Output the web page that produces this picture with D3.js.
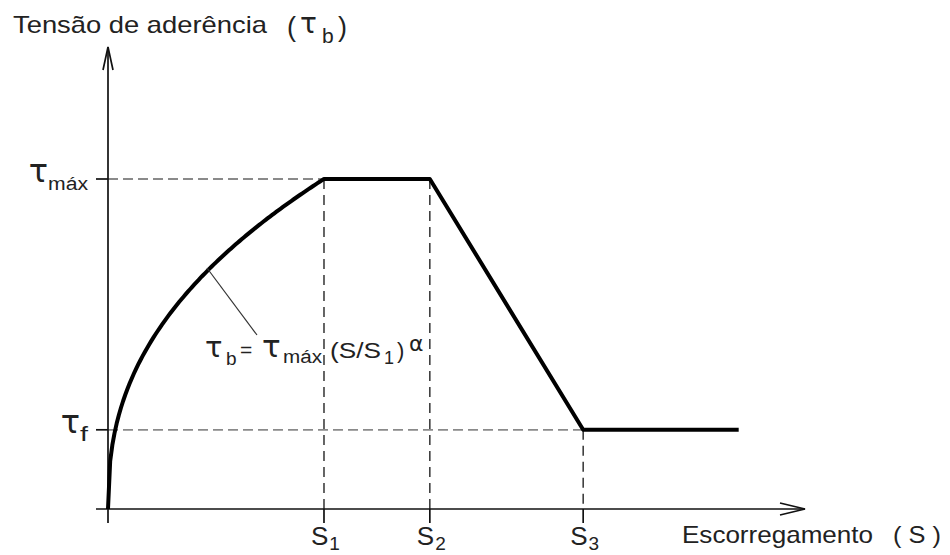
<!DOCTYPE html>
<html>
<head>
<meta charset="utf-8">
<script src="https://cdn.jsdelivr.net/npm/d3@7/dist/d3.min.js"></script>
<style>
  html, body { margin: 0; padding: 0; background: #fff; }
  svg { display: block; }
  text { font-family: "Liberation Sans", Arial, sans-serif; fill: #222; }
  text.greek { font-family: "DejaVu Sans", sans-serif; }
</style>
</head>
<body>
<svg id="chart" width="950" height="555"></svg>
<script>
// Bond stress–slip law (relative units: slip / S1, stress / τmáx)
const slipNames   = ["S1", "S2", "S3"];
const slipValues  = [1.0, 1.49, 2.2];
const slipEnd     = 2.92;          // end of the residual branch
const stressNames = ["máx", "f"];  // subscripts of τ
const stressValues = [1.0, 0.24];  // τmáx, τf
const alpha = 0.42;                // exponent of the ascending branch

const svg = d3.select("#chart");

const x = d3.scaleLinear().domain([0, 3.227]).range([108, 805]);
const y = d3.scaleLinear().domain([0, 1.4]).range([509, 47]);

const [S1, S2, S3] = slipValues;
const [tMax, tF] = stressValues;

// ascending branch τb = τmáx (S/S1)^α, then plateau, softening and residual
const rising = d3.range(0, 1.0001, 0.01).map(r => [r * S1, tMax * Math.pow(r, alpha)]);
const curve = rising.concat([[S2, tMax], [S3, tF], [slipEnd, tF]]);

const axisColor = "#111";

// dashed guides
const guides = svg.append("g");
guides.append("line")
  .attr("x1", x(0)).attr("x2", x(S1)).attr("y1", y(tMax)).attr("y2", y(tMax))
  .attr("stroke", "#8a8a8a").attr("stroke-width", 1.8).attr("stroke-dasharray", "10,5");
guides.append("line")
  .attr("x1", x(0)).attr("x2", x(S3)).attr("y1", y(tF)).attr("y2", y(tF))
  .attr("stroke", "#8a8a8a").attr("stroke-width", 1.8).attr("stroke-dasharray", "10,5");
[[S1, tMax], [S2, tMax], [S3, tF]].forEach(([s, t]) => {
  guides.append("line")
    .attr("x1", x(s)).attr("x2", x(s)).attr("y1", y(t)).attr("y2", y(0))
    .attr("stroke", "#333").attr("stroke-width", 1.5).attr("stroke-dasharray", "10,6");
});

// axes
const axes = svg.append("g").attr("stroke", axisColor).attr("stroke-width", 1.7).attr("fill", "none");
axes.append("line").attr("x1", x(0)).attr("x2", x(0)).attr("y1", y(0) + 14).attr("y2", y(1.4));
axes.append("line").attr("x1", x(0) - 12).attr("x2", x(3.227)).attr("y1", y(0)).attr("y2", y(0));
// open arrowheads
axes.append("path").attr("d", `M${x(0) - 5},${y(1.4) + 23} L${x(0)},${y(1.4)} L${x(0) + 5},${y(1.4) + 23}`);
axes.append("path").attr("d", `M${x(3.227) - 25},${y(0) - 6} L${x(3.227)},${y(0)} L${x(3.227) - 25},${y(0) + 6}`);

// ticks
stressValues.forEach(t => {
  axes.append("line").attr("x1", x(0) - 12).attr("x2", x(0)).attr("y1", y(t)).attr("y2", y(t));
});
slipValues.forEach(s => {
  axes.append("line").attr("x1", x(s)).attr("x2", x(s)).attr("y1", y(0)).attr("y2", y(0) + 14);
});

// the bond–slip curve
svg.append("path")
  .datum(curve)
  .attr("d", d3.line().x(d => x(d[0])).y(d => y(d[1])))
  .attr("fill", "none").attr("stroke", "#000").attr("stroke-width", 4)
  .attr("stroke-linejoin", "round");

// leader line to the formula
svg.append("line")
  .attr("x1", 207).attr("y1", 268).attr("x2", 257).attr("y2", 335)
  .attr("stroke", "#333").attr("stroke-width", 1.2);

// y-axis title
const title = svg.append("g");
title.append("text").attr("x", 13).attr("y", 33).attr("font-size", 24)
  .attr("textLength", 254).attr("lengthAdjust", "spacingAndGlyphs").text("Tensão de aderência");
title.append("text").attr("x", 287).attr("y", 36).attr("font-size", 27).text("(");
title.append("text").attr("class", "greek").attr("x", 300).attr("y", 33).attr("font-size", 28).text("τ");
title.append("text").attr("x", 322).attr("y", 43).attr("font-size", 21).text("b");
title.append("text").attr("x", 338).attr("y", 36).attr("font-size", 27).text(")");

// stress labels
const stressLabels = svg.append("g");
stressValues.forEach((t, i) => {
  const sub = stressNames[i];
  const subW = sub === "f" ? 8 : 40;
  const subX = 88 - subW;
  stressLabels.append("text").attr("x", subX).attr("y", y(t) + 11)
    .attr("font-size", sub === "f" ? 20 : 18)
    .attr("textLength", subW).attr("lengthAdjust", "spacingAndGlyphs")
    .attr("fill", "#333").text(sub);
  stressLabels.append("text").attr("class", "greek").attr("x", subX).attr("y", y(t) + 3)
    .attr("font-size", 32).attr("text-anchor", "end").text("τ");
});

// slip labels
const slipLabels = svg.append("g");
slipValues.forEach((s, i) => {
  const g = slipLabels.append("text").attr("x", x(s) - 13).attr("y", 545).attr("font-size", 26);
  g.append("tspan").text(slipNames[i][0]);
  g.append("tspan").attr("dy", 5).attr("font-size", 19).attr("dx", 1).text(slipNames[i].slice(1));
});

// x-axis title
svg.append("text").attr("x", 682).attr("y", 543).attr("font-size", 24)
  .attr("textLength", 191).attr("lengthAdjust", "spacingAndGlyphs").text("Escorregamento");
svg.append("text").attr("x", 893).attr("y", 543).attr("font-size", 24)
  .attr("textLength", 48).attr("lengthAdjust", "spacingAndGlyphs").text("( S )");

// formula τb = τmáx (S/S1)^α
const f = svg.append("g");
f.append("text").attr("class", "greek").attr("x", 205).attr("y", 357).attr("font-size", 29).text("τ");
f.append("text").attr("x", 226).attr("y", 365).attr("font-size", 19).text("b");
f.append("text").attr("x", 240).attr("y", 357).attr("font-size", 21).text("=");
f.append("text").attr("class", "greek").attr("x", 262).attr("y", 357).attr("font-size", 31).text("τ");
f.append("text").attr("x", 283).attr("y", 363).attr("font-size", 18)
  .attr("textLength", 39).attr("lengthAdjust", "spacingAndGlyphs").attr("fill", "#333").text("máx");
f.append("text").attr("x", 330).attr("y", 358).attr("font-size", 22)
  .attr("textLength", 51).attr("lengthAdjust", "spacingAndGlyphs").text("(S/S");
f.append("text").attr("x", 384).attr("y", 364).attr("font-size", 18).text("1");
f.append("text").attr("x", 397).attr("y", 358).attr("font-size", 22).text(")");
f.append("text").attr("class", "greek").attr("x", 409).attr("y", 351).attr("font-size", 22).text("α");
</script>
</body>
</html>
